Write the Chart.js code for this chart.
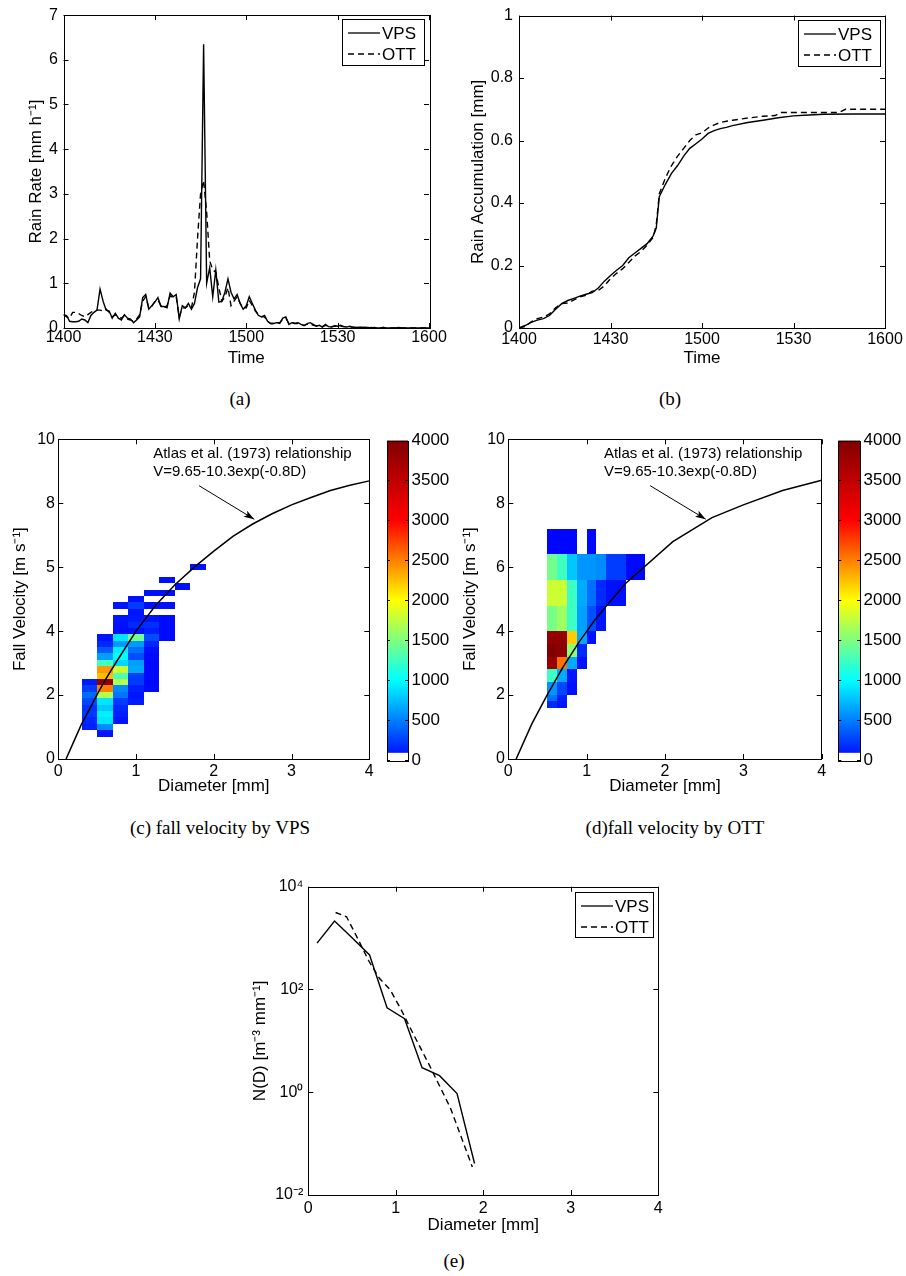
<!DOCTYPE html>
<html>
<head>
<meta charset="utf-8">
<script src="https://cdn.jsdelivr.net/npm/chart.js@4.4.1/dist/chart.umd.min.js"></script>
<style>
  body { margin: 0; background: #fff; }
  #page { position: relative; width: 906px; height: 1276px; overflow: hidden; }
  canvas { position: absolute; }
  .cap { position: absolute; font-family: "Liberation Serif", "Times New Roman", serif; font-size: 19px; color: #000; transform: translate(-50%, -50%); white-space: nowrap; }
</style>
</head>
<body>
<div id="page">
  <canvas id="rateChart" width="450" height="372" style="left:0;top:0"></canvas>
  <canvas id="accumChart" width="456" height="372" style="left:450px;top:0"></canvas>
  <canvas id="vpsVelChart" width="380" height="380" style="left:0;top:420px"></canvas>
  <canvas id="vpsBar" width="76" height="360" style="left:380px;top:420px"></canvas>
  <canvas id="ottVelChart" width="380" height="380" style="left:450px;top:420px"></canvas>
  <canvas id="ottBar" width="76" height="360" style="left:830px;top:420px"></canvas>
  <canvas id="dsdChart" width="460" height="376" style="left:220px;top:860px"></canvas>
  <div class="cap" style="left:240px;top:399px">(a)</div>
  <div class="cap" style="left:670px;top:399px">(b)</div>
  <div class="cap" style="left:220px;top:828px">(c) fall velocity by VPS</div>
  <div class="cap" style="left:675px;top:828px">(d)fall velocity by OTT</div>
  <div class="cap" style="left:454px;top:1261px">(e)</div>
</div>
<script>
// (a) rain rate, one value per minute after 14:00
const timeTickLabels = ['1400', '1430', '1500', '1530', '1600'];
const vpsRate = [
  0.30, 0.28, 0.15, 0.14, 0.14, 0.15, 0.20, 0.18, 0.12, 0.28,
  0.35, 0.40, 0.87, 0.60, 0.40, 0.38, 0.22, 0.33, 0.22, 0.18,
  0.30, 0.22, 0.20, 0.12, 0.18, 0.25, 0.68, 0.75, 0.42, 0.50,
  0.58, 0.68, 0.48, 0.48, 0.45, 0.78, 0.70, 0.75, 0.20, 0.50,
  0.45, 0.55, 0.42, 0.55, 0.90, 1.10, 6.35, 1.00, 1.35, 0.70,
  1.30, 0.58, 0.60, 0.80, 1.10, 0.80, 0.65, 0.75, 0.55, 0.42,
  0.50, 0.70, 0.55, 0.40, 0.28, 0.25, 0.28, 0.15, 0.10, 0.10,
  0.12, 0.10, 0.22, 0.25, 0.08, 0.12, 0.10, 0.12, 0.08, 0.05,
  0.10, 0.12, 0.08, 0.04, 0.06, 0.02, 0.08, 0.03, 0.02, 0.05,
  0.04, 0.06, 0.03, 0.02, 0.04, 0.02, 0.01, 0.02, 0.01, 0.01,
  0.01, 0, 0.01, 0, 0, 0.01, 0, 0, 0, 0,
  0.01, 0, 0, 0, 0, 0, 0, 0, 0, 0,
  0
];
const ottRate = [
  0.30, 0.25, 0.22, 0.35, 0.35, 0.32, 0.28, 0.25, 0.30, 0.35,
  0.38, 0.40, 0.40, 0.38, 0.42, 0.35, 0.25, 0.30, 0.25, 0.22,
  0.28, 0.20, 0.18, 0.15, 0.20, 0.30, 0.60, 0.70, 0.45, 0.48,
  0.60, 0.62, 0.50, 0.45, 0.50, 0.72, 0.68, 0.70, 0.25, 0.45,
  0.45, 0.50, 0.45, 0.80, 2.00, 3.00, 3.30, 2.60, 1.50, 1.30,
  1.25, 0.90, 0.60, 0.70, 0.90, 0.50, 0.60, 0.70, 0.55, 0.45,
  0.45, 0.62, 0.50, 0.38, 0.30, 0.25, 0.25, 0.15, 0.10, 0.10,
  0.12, 0.12, 0.20, 0.22, 0.10, 0.12, 0.10, 0.10, 0.08, 0.06,
  0.08, 0.10, 0.06, 0.05, 0.05, 0.03, 0.06, 0.03, 0.03, 0.04,
  0.05, 0.04, 0.03, 0.03, 0.02, 0.02, 0.01, 0.02, 0.01, 0.01,
  0.01, 0.01, 0, 0.01, 0, 0.01, 0, 0, 0, 0,
  0, 0, 0, 0, 0, 0, 0, 0, 0, 0,
  0
];

// (b) rain accumulation [mm]
const vpsAccMinutes = [0, 2, 4, 6, 8, 10, 12, 14, 16, 18, 20, 22, 24, 26, 28, 30, 32, 34, 36, 38, 40, 42, 44, 45, 46, 48, 50, 52, 54, 56, 58, 60, 62, 64, 66, 68, 70, 75, 80, 85, 90, 95, 100, 110, 120];
const vpsAccum = [0, 0.008, 0.018, 0.025, 0.03, 0.04, 0.06, 0.078, 0.088, 0.095, 0.102, 0.108, 0.113, 0.128, 0.15, 0.168, 0.185, 0.2, 0.225, 0.24, 0.255, 0.27, 0.295, 0.32, 0.42, 0.46, 0.495, 0.52, 0.55, 0.575, 0.59, 0.605, 0.623, 0.632, 0.638, 0.642, 0.648, 0.658, 0.665, 0.673, 0.679, 0.682, 0.684, 0.685, 0.685];
const ottAccMinutes = [0, 2, 4, 6, 8, 10, 12, 14, 16, 18, 20, 22, 24, 26, 28, 30, 32, 34, 36, 38, 40, 42, 44, 45, 46, 48, 50, 52, 54, 56, 58, 60, 62, 64, 66, 68, 70, 75, 80, 84, 86, 90, 95, 100, 105, 107, 110, 120];
const ottAccum = [0, 0.005, 0.02, 0.03, 0.035, 0.045, 0.065, 0.078, 0.08, 0.09, 0.1, 0.105, 0.118, 0.12, 0.135, 0.158, 0.175, 0.19, 0.21, 0.23, 0.245, 0.265, 0.29, 0.33, 0.43, 0.48, 0.52, 0.55, 0.575, 0.6, 0.618, 0.625, 0.64, 0.65, 0.658, 0.662, 0.665, 0.672, 0.678, 0.68, 0.69, 0.69, 0.69, 0.69, 0.69, 0.7, 0.7, 0.7];

// (c) VPS fall velocity counts, rows bottom -> top, columns by diameter bin
const vpsVelTickLabels = ['0', '2', '4', '5', '8', '10'];
const vpsDEdges = [0.3, 0.5, 0.7, 0.9, 1.1, 1.3, 1.5, 1.7, 1.9];
const vpsVEdges = [0.7, 0.9, 1.1, 1.3, 1.5, 1.7, 1.9, 2.1, 2.3, 2.5, 2.7, 2.9, 3.1, 3.3, 3.5, 3.7, 3.9, 4.1, 4.3, 4.5, 4.7, 4.9, 5.1, 5.3, 5.5, 5.7, 5.9, 6.1];
const vpsCounts = [
  [0, 80, 0, 0, 0, 0, 0, 0],
  [120, 550, 0, 0, 0, 0, 0, 0],
  [150, 900, 80, 0, 0, 0, 0, 0],
  [220, 950, 120, 0, 0, 0, 0, 0],
  [200, 780, 150, 0, 0, 0, 0, 0],
  [280, 900, 230, 100, 0, 0, 0, 0],
  [420, 1700, 450, 80, 0, 0, 0, 0],
  [240, 2500, 550, 120, 40, 0, 0, 0],
  [100, 3900, 1700, 230, 30, 0, 0, 0],
  [0, 2250, 1300, 230, 40, 0, 0, 0],
  [0, 2400, 1800, 660, 30, 0, 0, 0],
  [0, 1250, 850, 620, 30, 0, 0, 0],
  [0, 620, 1000, 300, 40, 0, 0, 0],
  [0, 350, 950, 430, 60, 0, 0, 0],
  [0, 150, 600, 600, 150, 0, 0, 0],
  [0, 80, 900, 1450, 300, 40, 0, 0],
  [0, 0, 50, 60, 120, 40, 0, 0],
  [0, 0, 60, 160, 180, 40, 0, 0],
  [0, 0, 80, 100, 80, 40, 0, 0],
  [0, 0, 0, 80, 0, 0, 0, 0],
  [0, 0, 80, 230, 60, 60, 0, 0],
  [0, 0, 0, 60, 0, 0, 0, 0],
  [0, 0, 0, 0, 60, 60, 0, 0],
  [0, 0, 0, 0, 0, 0, 60, 0],
  [0, 0, 0, 0, 0, 60, 0, 0],
  [0, 0, 0, 0, 0, 0, 0, 0],
  [0, 0, 0, 0, 0, 0, 0, 60]
];
const vpsAtlasD = [0.1, 0.2, 0.3, 0.4, 0.5, 0.6, 0.75, 1, 1.25, 1.5, 1.75, 2, 2.25, 2.5, 2.75, 3, 3.25, 3.5, 3.75, 4];
const vpsAtlasV = [0, 0.55, 1.1, 1.55, 2.02, 2.46, 3.05, 4.0, 4.8, 5.45, 6.0, 6.5, 6.97, 7.35, 7.67, 7.95, 8.18, 8.4, 8.56, 8.7];

// (d) OTT fall velocity counts on the Parsivel class grid
const ottDEdges = [0.5, 0.625, 0.75, 0.875, 1.0, 1.125, 1.25, 1.5, 1.75];
const ottVEdges = [1.6, 1.8, 2.0, 2.4, 2.8, 3.2, 3.6, 4.0, 4.8, 5.6, 6.4, 7.2];
const ottCounts = [
  [160, 80, 0, 0, 0, 0, 0, 0],
  [430, 120, 0, 0, 0, 0, 0, 0],
  [590, 280, 60, 0, 0, 0, 0, 0],
  [1230, 670, 80, 0, 0, 0, 0, 0],
  [3800, 2550, 670, 60, 0, 0, 0, 0],
  [4000, 3900, 1550, 160, 0, 0, 0, 0],
  [3850, 3850, 2200, 660, 60, 0, 0, 0],
  [1470, 1620, 1230, 630, 310, 80, 0, 0],
  [1800, 1800, 1230, 670, 430, 160, 60, 0],
  [1450, 1250, 780, 590, 590, 550, 235, 30],
  [20, 20, 20, 0, 30, 0, 0, 0]
];
const ottAtlasD = [0.1, 0.3, 0.5, 0.7, 0.9, 1.1, 1.3, 1.5, 2.1, 2.6, 3, 3.5, 4];
const ottAtlasV = [0, 1.1, 2.02, 2.88, 3.65, 4.33, 4.93, 5.5, 6.8, 7.55, 7.95, 8.4, 8.72];

const noteLines = ['Atlas et al. (1973) relationship', 'V=9.65-10.3exp(-0.8D)'];
const noteAt = [1.22, 9.54];
const arrowFrom = [1.81, 8.55];
const arrowTo = [2.52, 7.5];

// colour bar
const cbarTicks = [0, 500, 1000, 1500, 2000, 2500, 3000, 3500, 4000];
const cbarStops = [[0, [0, 0, 255]], [1000, [0, 255, 255]], [2000, [255, 255, 0]], [3000, [255, 0, 0]], [4000, [128, 0, 0]]];
const cbarWhiteTop = 90;

// (e) drop size distribution
const vpsNdD = [0.1, 0.3, 0.5, 0.7, 0.9, 1.1, 1.3, 1.5, 1.7, 1.9];
const vpsNd = [800, 2150, 1020, 470, 44, 27, 3.0, 2.1, 0.94, 0.041];
const ottNdD = [0.312, 0.437, 0.562, 0.687, 0.812, 0.937, 1.062, 1.187, 1.375, 1.625, 1.875];
const ottNd = [3150, 2600, 1000, 370, 165, 98, 40, 15, 3.6, 0.49, 0.035];
const ndTicks = [0.01, 1, 100, 10000];

const fontFamily = '"Liberation Sans", Arial, Helvetica, sans-serif';
Chart.defaults.font.family = fontFamily;
Chart.defaults.color = '#000';

function jetColor(n) {
  for (let i = 1; i < cbarStops.length; i++) {
    const [v1, c1] = cbarStops[i];
    const [v0, c0] = cbarStops[i - 1];
    if (n <= v1 || i === cbarStops.length - 1) {
      const t = Math.max(0, Math.min(1, (n - v0) / (v1 - v0)));
      const c = c0.map((a, k) => Math.round(a + (c1[k] - a) * t));
      return 'rgb(' + c.join(',') + ')';
    }
  }
}

const supMap = {'-': '\u207B', '0': '\u2070', '1': '\u00B9', '2': '\u00B2', '3': '\u00B3', '4': '\u2074'};
function powLabel(v) {
  return '10' + String(Math.round(Math.log10(v))).split('').map(ch => supMap[ch]).join('');
}

function xy(xs, ys) { return ys.map((y, i) => ({x: xs[i], y: y})); }
function fixW(w) { return s => { s.width = w; }; }
function fixH(h) { return s => { s.height = h; }; }

// box round the axes with inward ticks on all four sides
const matlabBox = {
  id: 'matlabBox',
  afterDraw(chart, args, opts) {
    const {ctx, chartArea: a} = chart;
    const len = opts.tickLength || 5;
    ctx.save();
    ctx.strokeStyle = '#000';
    ctx.lineWidth = 1;
    ctx.beginPath();
    ['x', 'y'].forEach(id => {
      const s = chart.scales[id];
      if (!s || !s.options.display) return;
      s.ticks.forEach(t => {
        const p = Math.round(s.getPixelForValue(t.value)) + 0.5;
        if (id === 'x') {
          ctx.moveTo(p, a.bottom); ctx.lineTo(p, a.bottom - len);
          ctx.moveTo(p, a.top); ctx.lineTo(p, a.top + len);
        } else {
          ctx.moveTo(a.left, p); ctx.lineTo(a.left + len, p);
          ctx.moveTo(a.right, p); ctx.lineTo(a.right - len, p);
        }
      });
    });
    ctx.stroke();
    ctx.strokeRect(Math.round(a.left) + 0.5, Math.round(a.top) + 0.5, Math.round(a.right - a.left), Math.round(a.bottom - a.top));
    ctx.restore();
  }
};

function boxLegend(right, top, w, h) {
  return {
    id: 'boxLegend',
    afterDraw(chart) {
      const {ctx, chartArea: a} = chart;
      const x0 = Math.round(a.right - right - w), y0 = Math.round(a.top + top);
      ctx.save();
      ctx.fillStyle = '#fff';
      ctx.fillRect(x0, y0, w, h);
      ctx.strokeStyle = '#000';
      ctx.lineWidth = 1;
      ctx.strokeRect(x0 + 0.5, y0 + 0.5, w, h);
      ctx.font = '17px ' + fontFamily;
      ctx.textBaseline = 'middle';
      ctx.fillStyle = '#000';
      chart.data.datasets.forEach((ds, i) => {
        const yy = y0 + 14 + i * 21;
        ctx.setLineDash(ds.borderDash || []);
        ctx.lineWidth = 1.3;
        ctx.beginPath();
        ctx.moveTo(x0 + 6, yy); ctx.lineTo(x0 + 38, yy);
        ctx.stroke();
        ctx.setLineDash([]);
        ctx.fillText(ds.label, x0 + 40, yy + 1);
      });
      ctx.restore();
    }
  };
}

function heatLayer(dEdges, vEdges, counts) {
  return {
    id: 'heatLayer',
    beforeDatasetsDraw(chart) {
      const {ctx, chartArea: a, scales: {x, y}} = chart;
      ctx.save();
      ctx.beginPath();
      ctx.rect(a.left, a.top, a.right - a.left, a.bottom - a.top);
      ctx.clip();
      counts.forEach((row, r) => row.forEach((n, c) => {
        if (!n) return;
        const x0 = Math.round(x.getPixelForValue(dEdges[c]));
        const x1 = Math.round(x.getPixelForValue(dEdges[c + 1]));
        const y0 = Math.round(y.getPixelForValue(vEdges[r]));
        const y1 = Math.round(y.getPixelForValue(vEdges[r + 1]));
        ctx.fillStyle = jetColor(n);
        ctx.fillRect(x0, y1, x1 - x0, y0 - y1);
      }));
      ctx.restore();
    }
  };
}

const atlasNote = {
  id: 'atlasNote',
  afterDatasetsDraw(chart) {
    const {ctx, scales: {x, y}} = chart;
    ctx.save();
    ctx.fillStyle = '#000';
    ctx.strokeStyle = '#000';
    ctx.font = '15px ' + fontFamily;
    ctx.textBaseline = 'middle';
    const tx = x.getPixelForValue(noteAt[0]), ty = y.getPixelForValue(noteAt[1]);
    noteLines.forEach((t, i) => ctx.fillText(t, tx, ty + i * 18));
    const fx = x.getPixelForValue(arrowFrom[0]), fy = y.getPixelForValue(arrowFrom[1]);
    const px = x.getPixelForValue(arrowTo[0]), py = y.getPixelForValue(arrowTo[1]);
    const ang = Math.atan2(py - fy, px - fx);
    ctx.lineWidth = 1;
    ctx.beginPath();
    ctx.moveTo(fx, fy); ctx.lineTo(px, py);
    ctx.stroke();
    ctx.beginPath();
    ctx.moveTo(px, py);
    ctx.lineTo(px - 11 * Math.cos(ang - 0.32), py - 11 * Math.sin(ang - 0.32));
    ctx.lineTo(px - 8 * Math.cos(ang), py - 8 * Math.sin(ang));
    ctx.lineTo(px - 11 * Math.cos(ang + 0.32), py - 11 * Math.sin(ang + 0.32));
    ctx.closePath();
    ctx.fill();
    ctx.restore();
  }
};

const colorBar = {
  id: 'colorBar',
  beforeDatasetsDraw(chart) {
    const {ctx, chartArea: a, scales: {y}} = chart;
    const y0 = y.getPixelForValue(0), y1 = y.getPixelForValue(4000);
    const g = ctx.createLinearGradient(0, y0, 0, y1);
    cbarStops.forEach(([v, c]) => g.addColorStop(v / 4000, 'rgb(' + c.join(',') + ')'));
    const yw = y.getPixelForValue(cbarWhiteTop);
    ctx.save();
    ctx.fillStyle = g;
    ctx.fillRect(a.left, y1, a.right - a.left, yw - y1);
    ctx.restore();
  }
};

const quiet = {legend: {display: false}, tooltip: {enabled: false}};
const tickFont = {size: 16};
const titleFont = {size: 17};
const noGrid = {display: false, drawTicks: false};
const noBorder = {display: false};

// (a) Rain rate
new Chart(document.getElementById('rateChart'), {
  type: 'scatter',
  data: {
    datasets: [
      {label: 'VPS', data: vpsRate.map((v, i) => ({x: i, y: v})), showLine: true, borderColor: '#000', borderWidth: 1.4, pointRadius: 0},
      {label: 'OTT', data: ottRate.map((v, i) => ({x: i, y: v})), showLine: true, borderColor: '#000', borderWidth: 1.4, borderDash: [6, 4], pointRadius: 0}
    ]
  },
  options: {
    responsive: false, animation: false, events: [], devicePixelRatio: 1,
    layout: {padding: {top: 12, right: 21, left: 0, bottom: 0}},
    plugins: quiet,
    scales: {
      x: {min: 0, max: 120, grid: noGrid, border: noBorder, afterFit: fixH(44),
          ticks: {stepSize: 30, padding: 0, font: tickFont, callback: v => timeTickLabels[v / 30]},
          title: {display: true, text: 'Time', font: titleFont, padding: {top: 0, bottom: 3.8}}},
      y: {min: 0, max: 7, grid: noGrid, border: noBorder, afterFit: fixW(63.5),
          ticks: {stepSize: 1, padding: 5.5, font: tickFont},
          title: {display: true, text: 'Rain Rate [mm h\u207B\u00B9]', font: titleFont, padding: {top: 26.5, bottom: 0}}}
    }
  },
  plugins: [matlabBox, boxLegend(5, 4, 82, 46)]
});

// (b) Rain accumulation
new Chart(document.getElementById('accumChart'), {
  type: 'scatter',
  data: {
    datasets: [
      {label: 'VPS', data: xy(vpsAccMinutes, vpsAccum), showLine: true, borderColor: '#000', borderWidth: 1.4, pointRadius: 0},
      {label: 'OTT', data: xy(ottAccMinutes, ottAccum), showLine: true, borderColor: '#000', borderWidth: 1.4, borderDash: [6, 4], pointRadius: 0}
    ]
  },
  options: {
    responsive: false, animation: false, events: [], devicePixelRatio: 1,
    layout: {padding: {top: 15, right: 21, left: 0, bottom: 0}},
    plugins: quiet,
    scales: {
      x: {min: 0, max: 120, grid: noGrid, border: noBorder, afterFit: fixH(44),
          ticks: {stepSize: 30, padding: 2, font: tickFont, callback: v => timeTickLabels[v / 30]},
          title: {display: true, text: 'Time', font: titleFont, padding: {top: 0, bottom: 3.8}}},
      y: {min: 0, max: 1, grid: noGrid, border: noBorder, afterFit: fixW(69),
          ticks: {stepSize: 0.2, padding: 6, font: tickFont, callback: v => String(+v.toFixed(1))},
          title: {display: true, text: 'Rain Accumulation [mm]', font: titleFont, padding: {top: 17.8, bottom: 0}}}
    }
  },
  plugins: [matlabBox, boxLegend(5, 4, 82, 46)]
});

function velocityChart(id, dEdges, vEdges, counts, curveD, curveV, yLabels, padRight) {
  return new Chart(document.getElementById(id), {
    type: 'scatter',
    data: {
      datasets: [
        {label: 'Atlas', data: xy(curveD, curveV), showLine: true, borderColor: '#000', borderWidth: 1.5, pointRadius: 0}
      ]
    },
    options: {
      responsive: false, animation: false, events: [], devicePixelRatio: 1,
      layout: {padding: {top: 19.3, right: padRight, left: 0, bottom: 0}},
      plugins: quiet,
      scales: {
        x: {min: 0, max: 4, grid: noGrid, border: noBorder, afterFit: fixH(41),
            ticks: {stepSize: 1, padding: 3, font: tickFont},
            title: {display: true, text: 'Diameter [mm]', font: titleFont, padding: {top: 0, bottom: 3.8}}},
        y: {min: 0, max: 10, grid: noGrid, border: noBorder, afterFit: fixW(58.3),
            ticks: {stepSize: 2, padding: 3.3, font: tickFont, callback: v => yLabels[v / 2]},
            title: {display: true, text: 'Fall Velocity [m s\u207B\u00B9]', font: titleFont, padding: {top: 9.8, bottom: 0}}}
      }
    },
    plugins: [heatLayer(dEdges, vEdges, counts), atlasNote, matlabBox]
  });
}

function barChart(id, padLeft, labelW) {
  return new Chart(document.getElementById(id), {
    type: 'scatter',
    data: {datasets: []},
    options: {
      responsive: false, animation: false, events: [], devicePixelRatio: 1,
      layout: {padding: {top: 20.5, right: 0, left: padLeft, bottom: 20}},
      plugins: Object.assign({matlabBox: {tickLength: 3}}, quiet),
      scales: {
        x: {display: false, min: 0, max: 1},
        y: {position: 'right', min: 0, max: 4000, grid: noGrid, border: noBorder, afterFit: fixW(labelW),
            afterBuildTicks: s => { s.ticks = cbarTicks.map(v => ({value: v})); },
            ticks: {padding: 3.5, font: {size: 17}, callback: v => String(v)}}
      }
    },
    plugins: [colorBar, matlabBox]
  });
}

// (c) and (d)
velocityChart('vpsVelChart', vpsDEdges, vpsVEdges, vpsCounts, vpsAtlasD, vpsAtlasV, vpsVelTickLabels, 10.7);
barChart('vpsBar', 7, 48);
velocityChart('ottVelChart', ottDEdges, ottVEdges, ottCounts, ottAtlasD, ottAtlasV, ['0', '2', '4', '6', '8', '10'], 8.3);
barChart('ottBar', 8.3, 46);

// (e) N(D)
new Chart(document.getElementById('dsdChart'), {
  type: 'scatter',
  data: {
    datasets: [
      {label: 'VPS', data: xy(vpsNdD, vpsNd), showLine: true, borderColor: '#000', borderWidth: 1.4, pointRadius: 0},
      {label: 'OTT', data: xy(ottNdD, ottNd), showLine: true, borderColor: '#000', borderWidth: 1.4, borderDash: [6, 4], pointRadius: 0}
    ]
  },
  options: {
    responsive: false, animation: false, events: [], devicePixelRatio: 1,
    layout: {padding: {top: 26.7, right: 21.7, left: 0, bottom: 0}},
    plugins: quiet,
    scales: {
      x: {min: 0, max: 4, grid: noGrid, border: noBorder, afterFit: fixH(41),
          ticks: {stepSize: 1, padding: 3.5, font: tickFont},
          title: {display: true, text: 'Diameter [mm]', font: titleFont, padding: {top: 0, bottom: 0.8}}},
      y: {type: 'logarithmic', min: 0.01, max: 10000, grid: noGrid, border: noBorder, afterFit: fixW(88.3),
          afterBuildTicks: s => { s.ticks = ndTicks.map(v => ({value: v})); },
          ticks: {padding: 5, font: tickFont, callback: v => powLabel(v)},
          title: {display: true, text: 'N(D) [m\u207B\u00B3 mm\u207B\u00B9]', font: titleFont, padding: {top: 29.8, bottom: 0}}}
    }
  },
  plugins: [matlabBox, boxLegend(5, 5, 78, 45)]
});
</script>
</body>
</html>
